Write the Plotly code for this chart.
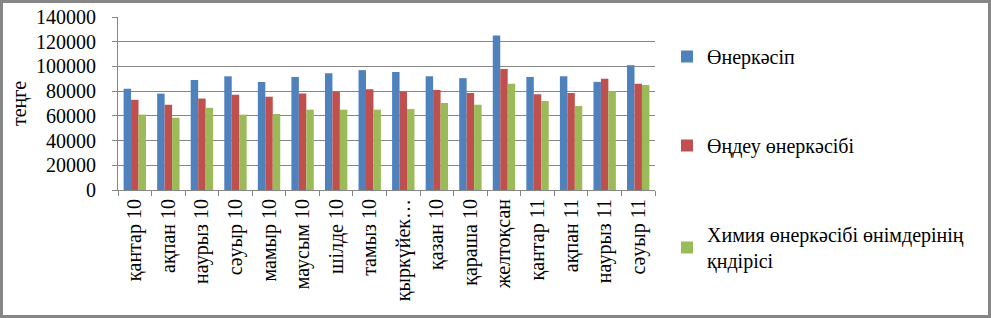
import plotly.graph_objects as go

categories = ["қантар 10", "ақпан 10", "наурыз 10", "сәуыр 10", "мамыр 10", "маусым 10",
              "шілде 10", "тамыз 10", "қыркүйек…", "қазан 10", "қараша 10", "желтоқсан",
              "қантар 11", "ақпан 11", "наурыз 11", "сәуыр 11"]
industry = [82000, 78000, 89000, 92000, 87500, 91500, 94500, 97000, 95500, 92000, 90500,
            125000, 91500, 92000, 87500, 101000]
manufacturing = [73000, 69000, 74000, 77000, 75500, 78000, 79500, 81500, 79500, 81000, 78500,
                 98000, 77500, 78500, 90000, 86000]
chemical = [61000, 58500, 66500, 61000, 61500, 65000, 65000, 65000, 65500, 70500, 69000,
            86000, 72000, 68000, 80000, 85000]
series_names = ["Өнеркәсіп", "Өңдеу өнеркәсібі", "Химия өнеркәсібі өнімдерінің<br>қндірісі"]
colors = ["#4F81BD", "#C0504D", "#9BBB59"]
y_ticks = [0, 20000, 40000, 60000, 80000, 100000, 120000, 140000]

W, H = 991, 318
L, R, T, B = 118, 336, 17, 128
pw, ph = W - L - R, H - T - B

fig = go.Figure()
for i, (name, vals, col) in enumerate(zip(series_names, [industry, manufacturing, chemical], colors)):
    fig.add_trace(go.Bar(x=categories, y=vals, name=name, marker_color=col,
                         marker_line_width=0, legendgroup=str(i)))

FONT = "Liberation Serif, Times New Roman, serif"
GRAY = "#868686"
FS = 20

def px_to_paper_x(px):
    return (px - L) / pw

def px_to_paper_y(py):
    return (H - B - py) / ph

fig.update_layout(
    width=W, height=H,
    margin=dict(l=L, r=R, t=T, b=B, autoexpand=False),
    paper_bgcolor="white", plot_bgcolor="white",
    barmode="group", bargap=0.333, bargroupgap=0,
    font=dict(family=FONT, size=FS, color="black"),
    showlegend=True,
    legend=dict(x=px_to_paper_x(667), y=px_to_paper_y(37), xanchor="left", yanchor="top",
                tracegroupgap=60, font=dict(family=FONT, size=FS, color="black"),
                bgcolor="rgba(0,0,0,0)", itemwidth=30, maxheight=300),
    xaxis=dict(type="category", showline=True, linecolor=GRAY, linewidth=1,
               ticks="outside", ticklen=5, tickcolor=GRAY, tickson="boundaries",
               tickangle=-90, tickfont=dict(family=FONT, size=FS), showgrid=False),
    yaxis=dict(range=[0, 140000], tickvals=y_ticks, ticktext=[str(v) for v in y_ticks],
               showline=True, linecolor=GRAY, linewidth=1, ticks="outside", ticklen=5,
               tickcolor=GRAY, showgrid=True, gridcolor=GRAY, gridwidth=1,
               zeroline=False, tickfont=dict(family=FONT, size=FS), ticklabelstandoff=12,
               title=dict(text="теңге", font=dict(family=FONT, size=FS), standoff=4)),
    shapes=[dict(type="rect", xref="paper", yref="paper",
                 x0=px_to_paper_x(1.5), x1=px_to_paper_x(989.5),
                 y0=px_to_paper_y(316.5), y1=px_to_paper_y(1.5),
                 line=dict(color=GRAY, width=3), fillcolor="rgba(0,0,0,0)", layer="above")],
)

fig.write_html("out.html")
